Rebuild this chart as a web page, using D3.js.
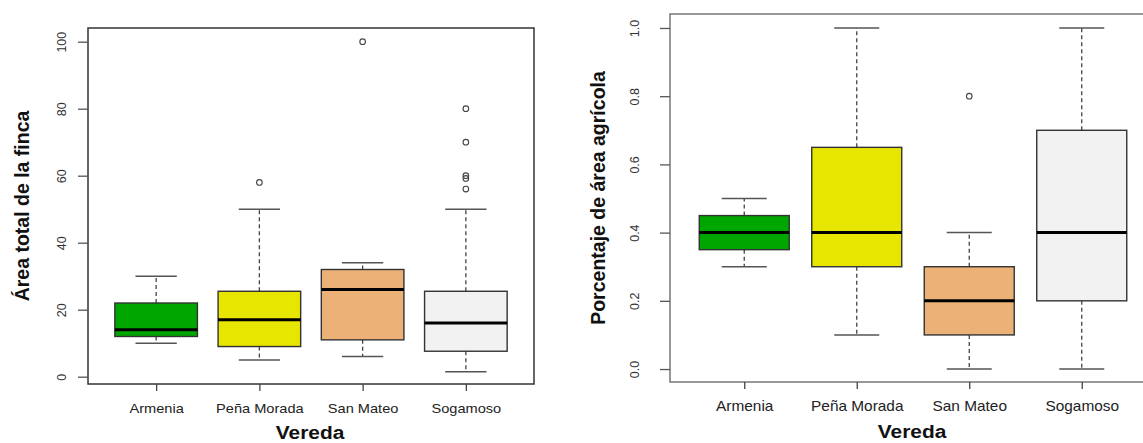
<!DOCTYPE html>
<html>
<head>
<meta charset="utf-8">
<script src="https://cdn.jsdelivr.net/npm/d3@7"></script>
<style>
  html, body { margin: 0; padding: 0; background: #fff; }
  svg { display: block; font-family: "Liberation Sans", Arial, sans-serif; }
</style>
</head>
<body>
<svg id="chart" width="1143" height="443"></svg>
<script>
// Categories (veredas) and box colours
const veredas = ["Armenia", "Peña Morada", "San Mateo", "Sogamoso"];
const boxColors = ["#00A600", "#E6E600", "#ECB176", "#F2F2F2"];

// Farm area: five-number summaries per vereda
const areaLow = [10, 5, 6, 1.5];
const areaQ1 = [12, 9, 11, 7.6];
const areaMedian = [14, 17, 26, 16];
const areaQ3 = [22, 25.5, 32, 25.5];
const areaHigh = [30, 50, 34, 50];
const areaOutliers = [[], [58], [100], [80, 70, 60, 59.2, 56]];
const areaTicks = [0, 20, 40, 60, 80, 100];

// Share of agricultural area: five-number summaries per vereda
const agriLow = [0.3, 0.1, 0.0, 0.0];
const agriQ1 = [0.35, 0.3, 0.1, 0.2];
const agriMedian = [0.4, 0.4, 0.2, 0.4];
const agriQ3 = [0.45, 0.65, 0.3, 0.7];
const agriHigh = [0.5, 1.0, 0.4, 1.0];
const agriOutliers = [[], [], [0.8], []];
const agriTicks = [0.0, 0.2, 0.4, 0.6, 0.8, 1.0];

const svg = d3.select("#chart");

function boxplot(cfg) {
  const g = svg.append("g");
  const x = d3.scaleLinear().domain([0.34, 4.66]).range([cfg.left, cfg.right]);
  const y = d3.scaleLinear().domain(cfg.yDomain).range([cfg.bottom, cfg.top]);
  const step = x(2) - x(1);
  const boxW = step * 0.8;
  const capW = boxW / 2;

  const rows = veredas.map((name, i) => ({
    name, i,
    low: cfg.low[i], q1: cfg.q1[i], med: cfg.median[i], q3: cfg.q3[i], high: cfg.high[i],
    out: cfg.outliers[i], color: boxColors[i]
  }));

  rows.forEach(d => {
    const cx = x(d.i + 1);
    // Dashed whiskers
    [[d.q3, d.high], [d.q1, d.low]].forEach(([a, b]) => {
      g.append("line").attr("x1", cx).attr("x2", cx)
        .attr("y1", y(a)).attr("y2", y(b))
        .attr("stroke", "#444").attr("stroke-width", 1.3).attr("stroke-dasharray", "4,3");
    });
    // Whisker caps
    [d.low, d.high].forEach(v => {
      g.append("line").attr("x1", cx - capW / 2).attr("x2", cx + capW / 2)
        .attr("y1", y(v)).attr("y2", y(v))
        .attr("stroke", "#555").attr("stroke-width", 1.5);
    });
    // Box
    g.append("rect").attr("x", cx - boxW / 2).attr("width", boxW)
      .attr("y", y(d.q3)).attr("height", y(d.q1) - y(d.q3))
      .attr("fill", d.color).attr("stroke", "#333").attr("stroke-width", 1.4);
    // Median
    g.append("line").attr("x1", cx - boxW / 2).attr("x2", cx + boxW / 2)
      .attr("y1", y(d.med)).attr("y2", y(d.med))
      .attr("stroke", "#000").attr("stroke-width", 3);
    // Outliers
    d.out.forEach(v => {
      g.append("circle").attr("cx", cx).attr("cy", y(v)).attr("r", 2.8)
        .attr("fill", "none").attr("stroke", "#444").attr("stroke-width", 1.1);
    });
  });

  // Plot frame
  g.append("rect").attr("x", cfg.left).attr("y", cfg.top)
    .attr("width", cfg.right - cfg.left).attr("height", cfg.bottom - cfg.top)
    .attr("fill", "none").attr("stroke", cfg.frameColor).attr("stroke-width", 1.5);

  // Y axis with rotated tick labels
  const yAxis = g.append("g").attr("transform", `translate(${cfg.left},0)`)
    .call(d3.axisLeft(y).tickValues(cfg.ticks).tickSize(10).tickFormat(cfg.fmt));
  yAxis.select(".domain").remove();
  yAxis.selectAll(".tick line").attr("stroke", "#555").attr("stroke-width", 1.3);
  yAxis.selectAll(".tick text")
    .attr("x", 0).attr("y", -cfg.tickLabelOffset).attr("dy", 0)
    .attr("transform", "rotate(-90)")
    .attr("text-anchor", "middle")
    .attr("dominant-baseline", "central")
    .style("font-size", "12.5px").style("fill", "#333")
    .style("font-family", "'Liberation Sans', Arial, sans-serif");

  // X axis
  const xAxis = g.append("g").attr("transform", `translate(0,${cfg.bottom})`)
    .call(d3.axisBottom(x).tickValues([1, 2, 3, 4]).tickSize(7).tickFormat(i => veredas[i - 1]));
  xAxis.select(".domain").remove();
  xAxis.selectAll(".tick line").attr("stroke", "#444").attr("stroke-width", 1.3);
  xAxis.selectAll(".tick text")
    .attr("y", 0).attr("dy", 0)
    .attr("transform", `translate(0,${cfg.xLabelY - cfg.bottom}) scale(${cfg.xScaleX},1)`)
    .attr("dominant-baseline", "central")
    .style("font-size", cfg.xFont).style("fill", "#222")
    .style("font-family", "'Liberation Sans', Arial, sans-serif");

  // Axis titles
  g.append("text")
    .attr("transform", `translate(${cfg.xTitleX},${cfg.xTitleY}) scale(1.1,1)`)
    .attr("text-anchor", "middle").attr("dominant-baseline", "central")
    .style("font-size", "19px").style("font-weight", "bold").style("fill", "#111")
    .text("Vereda");
  g.append("text")
    .attr("transform", `translate(${cfg.yTitleX},${(cfg.top + cfg.bottom) / 2}) rotate(-90)`)
    .attr("text-anchor", "middle").attr("dominant-baseline", "central")
    .style("font-size", "19.5px").style("font-weight", "bold").style("fill", "#111")
    .text(cfg.yTitle);
}

boxplot({
  left: 88, right: 534, top: 28, bottom: 384,
  yDomain: [-2.18, 104.09],
  low: areaLow, q1: areaQ1, median: areaMedian, q3: areaQ3, high: areaHigh,
  outliers: areaOutliers, ticks: areaTicks, fmt: d3.format("d"),
  frameColor: "#333", tickLabelOffset: 26,
  xLabelY: 408, xFont: "13.5px", xScaleX: 1.08,
  xTitleX: 310, xTitleY: 432, yTitleX: 22,
  yTitle: "Área total de la finca"
});

boxplot({
  left: 670, right: 1156, top: 14, bottom: 382,
  yDomain: [-0.038, 1.041],
  low: agriLow, q1: agriQ1, median: agriMedian, q3: agriQ3, high: agriHigh,
  outliers: agriOutliers, ticks: agriTicks, fmt: d3.format(".1f"),
  frameColor: "#777", tickLabelOffset: 35,
  xLabelY: 406, xFont: "14px", xScaleX: 1.1,
  xTitleX: 912, xTitleY: 431, yTitleX: 598,
  yTitle: "Porcentaje de área agrícola"
});
</script>
</body>
</html>
